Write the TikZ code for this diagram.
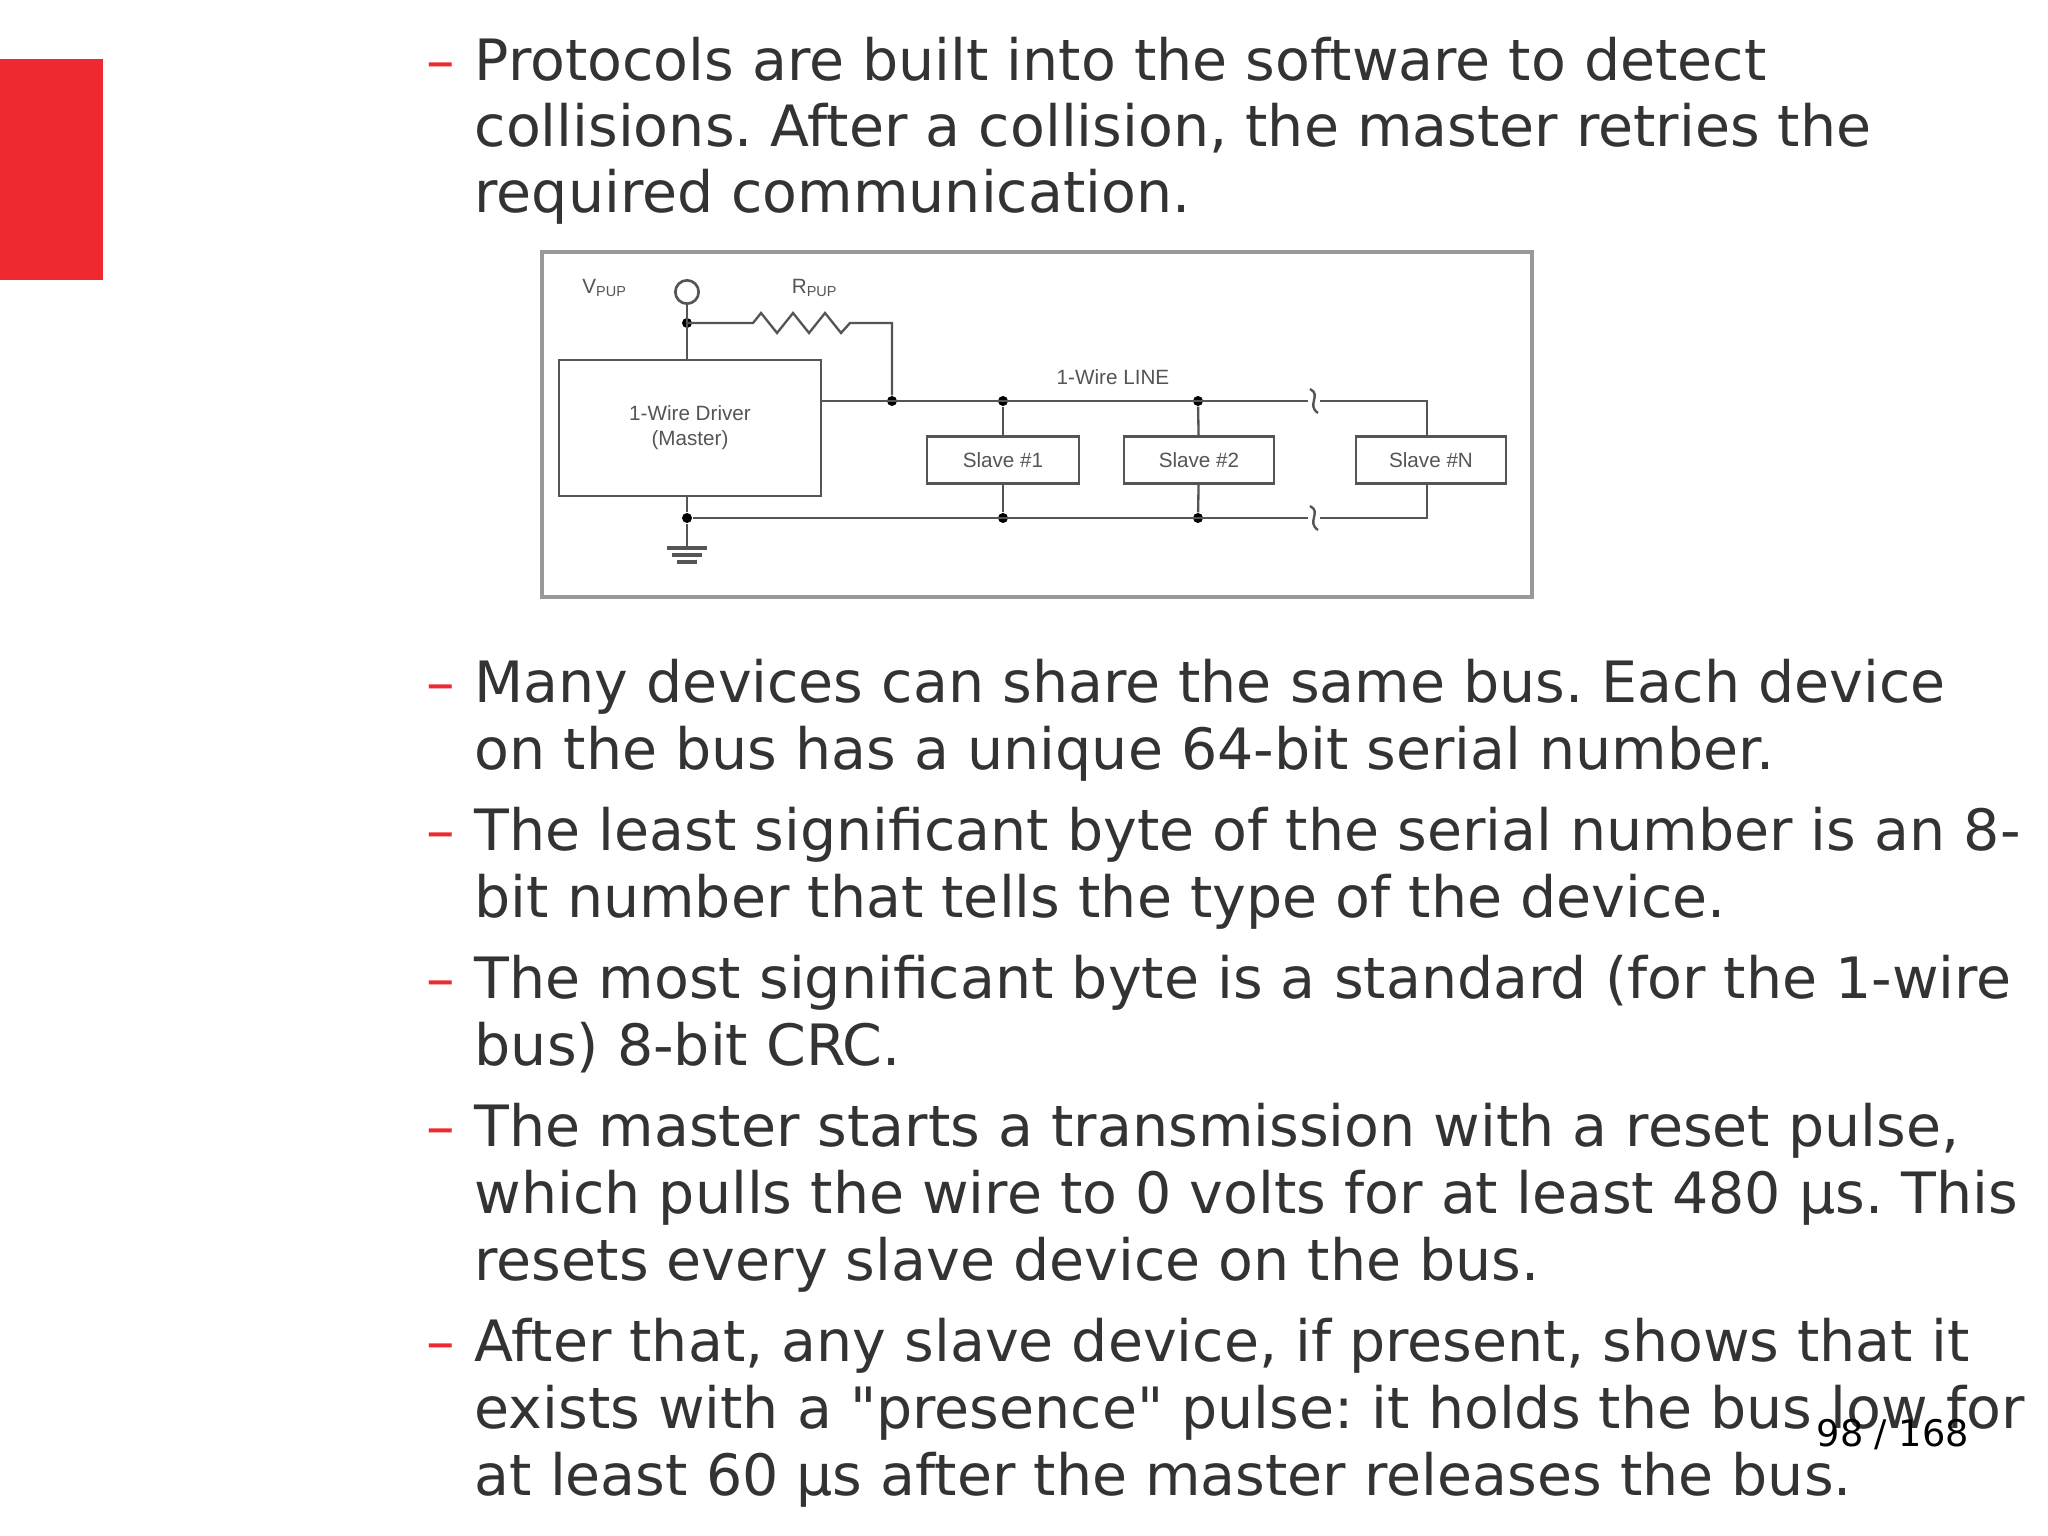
\documentclass[tikz,border=0pt]{standalone}
\usepackage{fontspec}
\setmainfont{DejaVu Sans}
\newfontfamily\rawq{DejaVu Sans}[Ligatures=ResetAll]
\newfontfamily\diag{Liberation Sans}
\definecolor{slidered}{HTML}{EE2A30}
\definecolor{txt}{HTML}{333333}
\definecolor{wire}{HTML}{555555}
\frenchspacing
\begin{document}
\begin{tikzpicture}[x=0.3pt,y=-0.3pt,
  line/.style={anchor=mid west,text=txt,font=\fontsize{17.1}{20}\selectfont,inner sep=0pt},
  dashmark/.style={anchor=mid west,text=slidered,font=\fontsize{17.1}{20}\selectfont,inner sep=0pt},
  w/.style={draw=wire,line width=0.7pt},
  box/.style={draw=wire,line width=0.8pt,fill=white,font=\diag\fontsize{6.2}{7.5}\selectfont,text=wire,inner sep=0pt,align=center},
  dot/.style={circle,fill=black,inner sep=0pt,minimum size=3pt},
  lbl/.style={font=\diag\fontsize{6.2}{7.5}\selectfont,text=wire,inner sep=0pt}]
\useasboundingbox (0,0) rectangle (2048,1536);
\fill[white] (0,0) rectangle (2048,1536);
\fill[slidered] (0,59) rectangle (103,280);
% bullets
\foreach \y in {71,693,841,989,1137,1352} \node[dashmark] at (426,\y) {–};
\node[line] (l1) at (474,71) {Protocols are built into the software to detect};
\node[line] (l2) at (474,137) {collisions. After a collision, the master retries the};
\node[line] (l3) at (474,203) {required communication.};
\node[line] (l4) at (474,693) {Many devices can share the same bus. Each device};
\node[line] (l5) at (474,760) {on the bus has a unique 64-bit serial number.};
\node[line] (l6) at (474,841) {The least significant byte of the serial number is an 8-};
\node[line] (l7) at (474,908) {bit number that tells the type of the device.};
\node[line] (l8) at (474,989) {The most significant byte is a standard (for the 1-wire};
\node[line] (l9) at (474,1056) {bus) 8-bit CRC.};
\node[line] (l10) at (474,1137) {The master starts a transmission with a reset pulse,};
\node[line] (l11) at (474,1204) {which pulls the wire to 0 volts for at least 480 µs. This};
\node[line] (l12) at (474,1271) {resets every slave device on the bus.};
\node[line] (l13) at (474,1352) {After that, any slave device, if present, shows that it};
\node[line] (l14) at (474,1419) {exists with a {\rawq"}presence{\rawq"} pulse: it holds the bus low for};
\node[line] (l15) at (474,1486) {at least 60 µs after the master releases the bus.};
\node[anchor=mid west,inner sep=0pt,font=\fontsize{11}{13}\selectfont] (pg) at (1816,1437) {98 / 168};
% diagram
\draw[draw=gray!80,line width=1pt] (542,252) rectangle (1532,597);
\node[lbl] (vp) at (605,288) {V\textsubscript{PUP}};
\node[lbl] (rp) at (815,288) {R\textsubscript{PUP}};
\node[circle,draw=wire,line width=0.8pt,inner sep=0pt,minimum size=7pt] (vc) at (687,292) {};
\node[box,minimum width=78.6pt,minimum height=40.8pt] (m) at (690,428) {1-Wire Driver\\(Master)};
\coordinate (jt) at (687,323);
\coordinate (ra) at (753,323);
\coordinate (rb) at (850,323);
\coordinate (rc) at (892,323);
\node[dot] (j0) at (892,401) {};
\node[dot] (j1) at (1003,401) {};
\node[dot] (j2) at (1198,401) {};
\node[dot] (g0) at (687,518) {};
\node[dot] (g1) at (1003,518) {};
\node[dot] (g2) at (1198,518) {};
\node[dot] at (jt) {};
\coordinate (te) at (1427,401);
\coordinate (be) at (1427,518);
\coordinate (gnd) at (687,548);
\node[box,minimum width=45.6pt,minimum height=14pt] (s1) at (1003,460) {Slave \#1};
\node[box,minimum width=45pt,minimum height=14pt] (s2) at (1199,460) {Slave \#2};
\node[box,minimum width=45pt,minimum height=14pt] (sn) at (1431,460) {Slave \#N};
\node[lbl] (wl) at (1113,377) {1-Wire LINE};
\draw[w] (vc) -- (jt) -- (m.north -| jt);
\draw[w] (jt) -- (ra) -- ++(8,-10) -- ++(16,20) -- ++(16,-20) -- ++(16,20) -- ++(16,-20) -- ++(16,20) -- (rb) -- (rc) -- (j0);
\draw[w] (m.east |- j0) -- (1308,401);
\draw[w] (1320,401) -- (te) -- (sn.north -| te);
\draw[w] (m.south -| g0) -- (g0) -- (1308,518);
\draw[w] (1320,518) -- (be) -- (sn.south -| be);
\draw[w] (j1) -- (s1); \draw[w] (s1) -- (g1);
\draw[w] (j2) -- (s2); \draw[w] (s2) -- (g2);
\foreach \yy in {401,518} \draw[w] (1310,\yy-12) .. controls (1322,\yy-6) and (1306,\yy+4) .. (1318,\yy+12);
\draw[w] (g0) -- (gnd);
\draw[w,line width=1pt] (667,548) -- (707,548) (672,555) -- (702,555) (677,562) -- (697,562);
\end{tikzpicture}
\end{document}
